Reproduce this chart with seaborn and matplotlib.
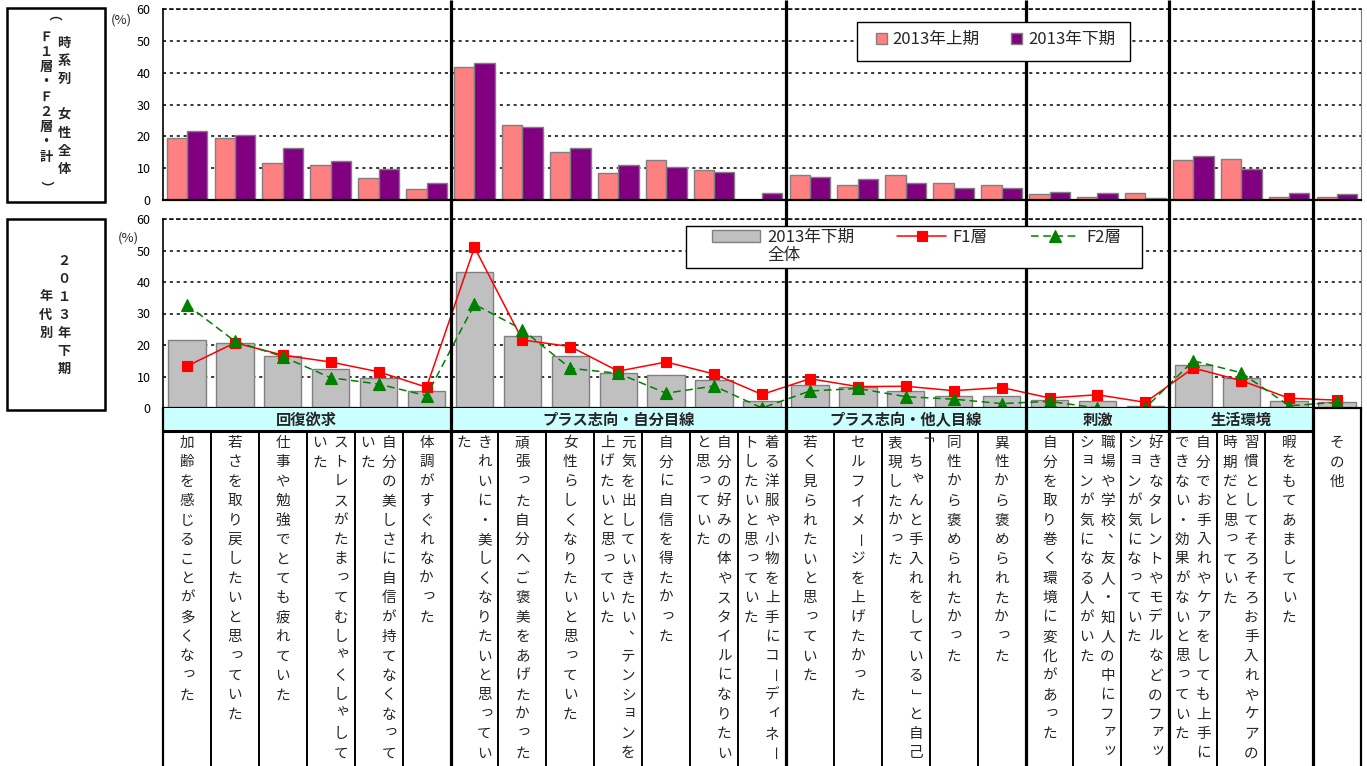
import numpy as np
import pandas as pd
import matplotlib
matplotlib.use("Agg")
import matplotlib.pyplot as plt
import seaborn as sns
from matplotlib.patches import Rectangle
from matplotlib.lines import Line2D
from matplotlib.transforms import blended_transform_factory

# --- data ---
group_names = ["回復欲求", "プラス志向・自分目線", "プラス志向・他人目線", "刺激", "生活環境", ""]
group_sizes = [6, 7, 5, 3, 3, 1]

categories = [
    "加齢を感じることが多くなった",
    "若さを取り戻したいと思っていた",
    "仕事や勉強でとても疲れていた",
    "ストレスがたまってむしゃくしゃしていた",
    "自分の美しさに自信が持てなくなっていた",
    "体調がすぐれなかった",
    "きれいに・美しくなりたいと思っていた",
    "頑張った自分へご褒美をあげたかった",
    "女性らしくなりたいと思っていた",
    "元気を出していきたい、テンションを上げたいと思っていた",
    "自分に自信を得たかった",
    "自分の好みの体やスタイルになりたいと思っていた",
    "着る洋服や小物を上手にコーディネートしたいと思っていた",
    "若く見られたいと思っていた",
    "セルフイメージを上げたかった",
    "「ちゃんと手入れをしている」と自己表現したかった",
    "同性から褒められたかった",
    "異性から褒められたかった",
    "自分を取り巻く環境に変化があった",
    "職場や学校、友人・知人の中にファッションが気になる人がいた",
    "好きなタレントやモデルなどのファッションが気になっていた",
    "自分でお手入れやケアをしても上手にできない・効果がないと思っていた",
    "習慣としてそろそろお手入れやケアの時期だと思っていた",
    "暇をもてあましていた",
    "その他",
]

period_labels = ["2013年上期", "2013年下期"]
first_half_2013 = [19.5, 19.5, 11.5, 11.1, 7.0, 3.4, 41.7, 23.6, 15.0, 8.6, 12.7, 9.3, 0.0,
                   7.9, 4.8, 7.9, 5.4, 4.7, 1.8, 0.9, 2.1, 12.7, 13.0, 0.9, 0.9]
second_half_2013 = [21.6, 20.5, 16.4, 12.3, 9.6, 5.4, 43.1, 22.8, 16.4, 11.1, 10.4, 8.9, 2.1,
                    7.3, 6.6, 5.4, 3.9, 3.9, 2.4, 2.1, 0.5, 13.8, 9.6, 2.1, 1.8]
f1_layer = [13.3, 20.7, 16.8, 14.6, 11.5, 6.6, 51.0, 21.6, 19.5, 11.7, 14.6, 10.8, 4.3,
            9.3, 6.8, 6.9, 5.5, 6.5, 3.2, 4.2, 1.8, 12.7, 8.7, 3.1, 2.5]
f2_layer = [32.8, 21.2, 16.3, 9.6, 7.6, 3.9, 32.9, 24.9, 12.6, 11.0, 4.7, 7.0, 0.0,
            5.4, 6.2, 3.6, 2.8, 1.4, 2.1, 0.0, 0.0, 15.0, 11.2, 0.7, 1.8]

# --- style ---
sns.set_style("white")
plt.rcParams["font.family"] = ["Noto Sans CJK JP", "DejaVu Sans"]

W, H = 1367, 766
PINK, PURPLE, GREY, EDGE = "#FF8080", "#800080", "#C0C0C0", "#808080"
DOTS = (0, (2, 2.5))
n = len(categories)
cat_px = (1361 - 163) / n


def px_box(x0, y0, x1, y1):
    return [x0 / W, 1 - y1 / H, (x1 - x0) / W, (y1 - y0) / H]


SMALL_KANA = set("っゃゅょぁぃぅぇぉッャュョァィゥェォ")


def vertical_text(ax, x, y, s, step, xpx=1.0, **kw):
    # one character per row, top to bottom
    for k, ch in enumerate(s):
        dx, dy, rot = 0, 0, 0
        if ch in "ー「」（）":
            rot = -90
        elif ch in SMALL_KANA:
            dx, dy = 2, -3
        elif ch in "、。":
            dx, dy = 7, -7
        ax.text(x + dx * xpx, y + k * step + dy, ch, rotation=rot,
                ha="center", va="center", **kw)


fig = plt.figure(figsize=(W / 100, H / 100), dpi=100)
ax_top = fig.add_axes(px_box(163, 9, 1361, 200))
ax_bot = fig.add_axes(px_box(163, 219, 1361, 408))
ax_lab = fig.add_axes(px_box(163, 408, 1361, 766))
page = fig.add_axes([0, 0, 1, 1])
page.set_xlim(0, W)
page.set_ylim(H, 0)
page.axis("off")

# --- top chart: first vs second half of 2013 ---
top_df = pd.DataFrame({
    "cat": categories * 2,
    "period": [period_labels[0]] * n + [period_labels[1]] * n,
    "value": first_half_2013 + second_half_2013,
})
sns.barplot(data=top_df, x="cat", y="value", hue="period", order=categories,
            hue_order=period_labels, palette=[PINK, PURPLE], saturation=1,
            width=0.85, edgecolor=EDGE, linewidth=1, errorbar=None, ax=ax_top)
top_leg = ax_top.get_legend()
top_handles = top_leg.legend_handles
top_labels = [t.get_text() for t in top_leg.get_texts()]
top_leg.remove()

# --- bottom chart: whole vs F1 / F2 ---
sns.barplot(x=categories, y=second_half_2013, color=GREY, saturation=1, width=0.78,
            edgecolor=EDGE, linewidth=1, errorbar=None, ax=ax_bot, label="2013年下期")
sns.pointplot(x=categories, y=f1_layer, color="red", markers="s", linestyles="-",
              markersize=6.5, linewidth=1.1, errorbar=None, ax=ax_bot, label="F1層")
sns.pointplot(x=categories, y=f2_layer, color="green", markers="^", linestyles=(0, (5, 3)),
              markersize=8, linewidth=1.1, errorbar=None, ax=ax_bot, label="F2層")
if ax_bot.get_legend() is not None:
    ax_bot.get_legend().remove()
h, l = ax_bot.get_legend_handles_labels()
hmap = dict(zip(l, h))

for ax in (ax_top, ax_bot):
    ax.set_xlim(-0.5, n - 0.5)
    ax.set_ylim(0, 60)
    ax.set_yticks(range(0, 61, 10))
    ax.set_xlabel("")
    ax.set_ylabel("")
    ax.set_axisbelow(True)
    ax.yaxis.grid(True, color="black", linestyle=DOTS, lw=1.1)
    ax.xaxis.grid(False)
    ax.spines["top"].set_linestyle(DOTS)
    ax.spines["top"].set_color("black")
    ax.spines["top"].set_linewidth(1.1)
    ax.spines["right"].set_color(EDGE)
    ax.spines["right"].set_linewidth(0.8)
    ax.spines["left"].set_color("black")
    ax.spines["left"].set_linewidth(1.2)
    ax.spines["bottom"].set_color("black")
    ax.spines["bottom"].set_linewidth(1.6)
    ax.tick_params(axis="y", length=0, pad=9, labelsize=9, colors="black")

ax_top.set_xticks(np.arange(-0.5, n, 1))
ax_top.tick_params(axis="x", length=3, width=1, labelbottom=False, direction="out")
ax_bot.tick_params(axis="x", bottom=False, labelbottom=False)

# --- label area below the charts ---
ax_lab.set_xlim(-0.5, n - 0.5)
ax_lab.set_ylim(766 - 408, 0)
ax_lab.axis("off")
bounds = np.cumsum(group_sizes)
starts = bounds - np.array(group_sizes)
band_end = bounds[-2]
ax_lab.add_patch(Rectangle((-0.5, 0), band_end, 23, fc="#CCFFFF", ec="none"))
ax_lab.plot([-0.5, band_end - 0.5], [23, 23], color="black", lw=2.2, solid_capstyle="butt")
for name, s, size in zip(group_names, starts, group_sizes):
    if name:
        ax_lab.text(s + (size - 1) / 2, 12, name, ha="center", va="center",
                    fontsize=11, fontweight="bold")
for b in range(1, n):
    if b not in bounds:
        ax_lab.plot([b - 0.5, b - 0.5], [23, 358], color="black", lw=1.4)

for i, label in enumerate(categories):
    cols = [label[k:k + 17] for k in range(0, len(label), 17)]
    offsets = [0] if len(cols) == 1 else [0.21, -0.23]
    for col, off in zip(cols, offsets):
        vertical_text(ax_lab, i + off, 35, col, 19.4, xpx=1 / cat_px, fontsize=10.5)

# --- group separators across both charts ---
trans = blended_transform_factory(ax_top.transData, page.transData)
for b in bounds[:-1]:
    page.plot([b - 0.5, b - 0.5], [0, H], transform=trans, color="black", lw=2.3,
              solid_capstyle="butt")
for b in (0, n):
    page.plot([b - 0.5, b - 0.5], [408, H], transform=trans, color="black", lw=1.6,
              solid_capstyle="butt")

# --- left header boxes ---
for y0, y1 in [(8, 202), (219, 410)]:
    page.add_patch(Rectangle((7, y0), 98, y1 - y0, fill=False, ec="black", lw=1.8))
vertical_text(page, 64, 43, "時系列　女性全体", 18, fontsize=9.5, fontweight="bold")
vertical_text(page, 46, 22, "（Ｆ１層・Ｆ２層・計　）", 15, fontsize=9.5, fontweight="bold")
vertical_text(page, 64, 261, "２０１３年下期", 18, fontsize=9.5, fontweight="bold")
vertical_text(page, 46, 296, "年代別", 18.5, fontsize=9.5, fontweight="bold")
page.text(121, 20, "(%)", fontsize=9.5, ha="center", va="center")
page.text(128, 238, "(%)", fontsize=9.5, ha="center", va="center")

# --- legends ---
page.add_patch(Rectangle((857, 22), 273, 39, fc="white", ec="black", lw=1, zorder=10))
page.add_patch(Rectangle((686, 226), 456, 42, fc="white", ec="black", lw=1, zorder=10))
fig.legend(top_handles, top_labels, loc="upper left", bbox_to_anchor=(876 / W, 1 - 31 / H),
           ncol=2, frameon=False, fontsize=12, handlelength=0.65, handleheight=0.65,
           handletextpad=0.35, columnspacing=1.9, borderpad=0, borderaxespad=0)
blank = Line2D([], [], color="none")
fig.legend([hmap["2013年下期"], blank, hmap["F1層"], blank, hmap["F2層"], blank],
           ["2013年下期", "全体", "F1層", "", "F2層", ""],
           loc="upper left", bbox_to_anchor=(712 / W, 1 - 229 / H), ncol=3, frameon=False,
           fontsize=12, handlelength=2.9, handletextpad=0.4, columnspacing=2.6,
           labelspacing=0.05, borderpad=0, borderaxespad=0)

fig.savefig("out.png", dpi=100)
